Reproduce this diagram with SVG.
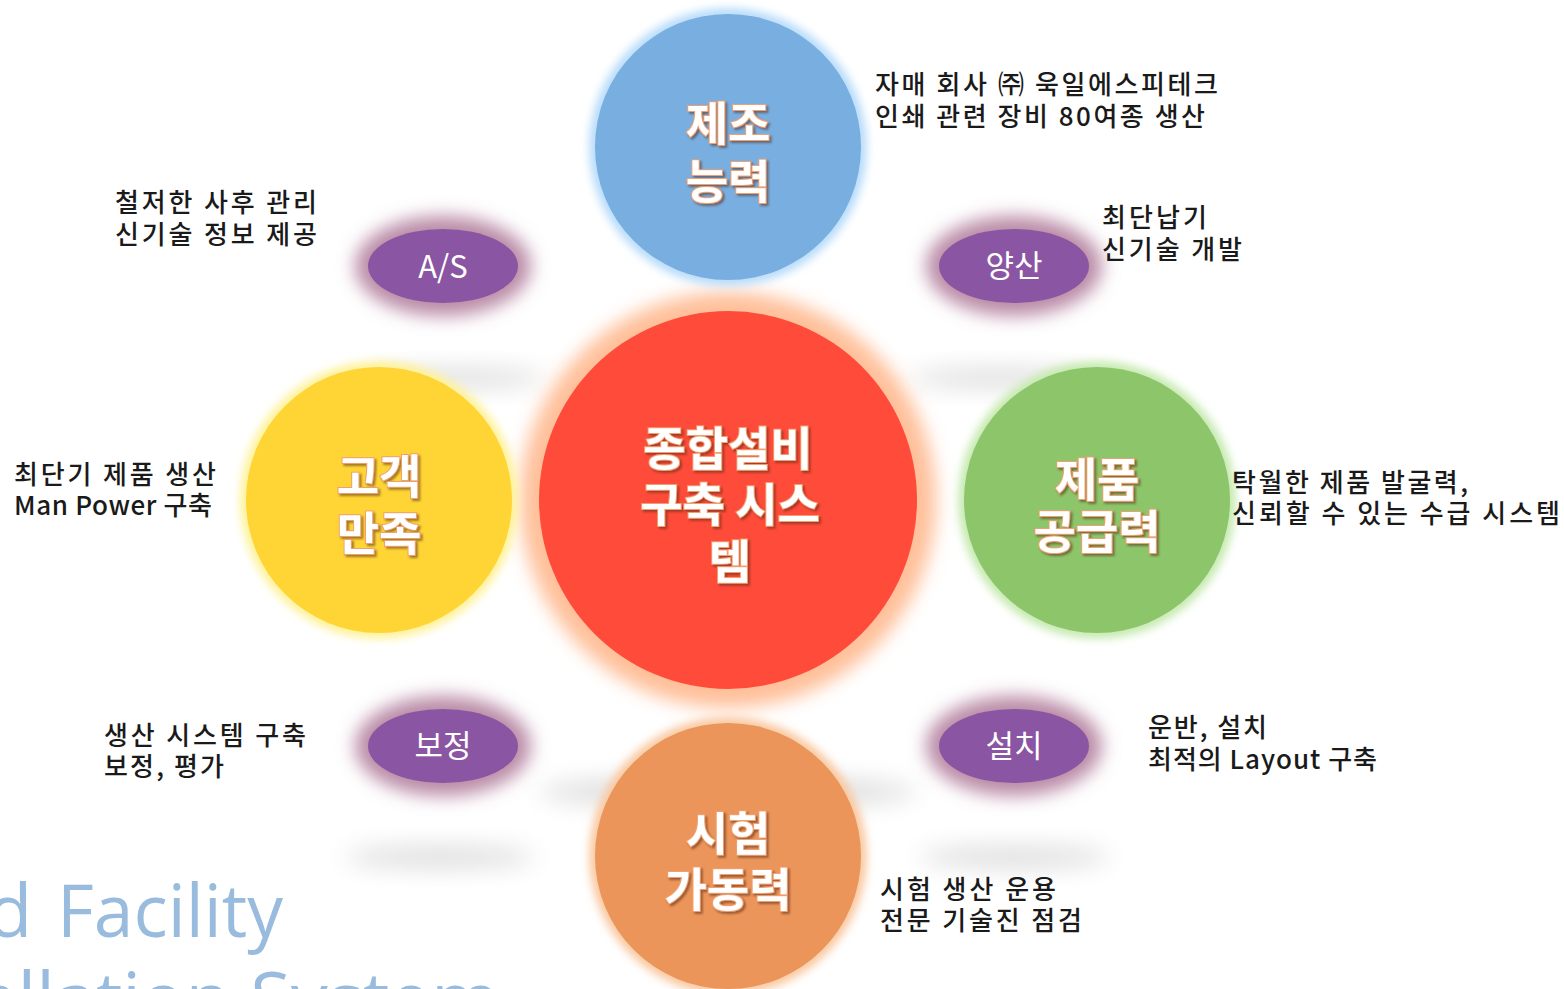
<svg xmlns="http://www.w3.org/2000/svg" width="1564" height="989" viewBox="0 0 1564 989">
<defs>
<filter id="blur4" x="-30%" y="-30%" width="160%" height="160%"><feGaussianBlur stdDeviation="4"/></filter>
<filter id="blur9" x="-40%" y="-40%" width="180%" height="180%"><feGaussianBlur stdDeviation="9"/></filter>
<filter id="blur12" x="-40%" y="-100%" width="180%" height="300%"><feGaussianBlur stdDeviation="12"/></filter>
<filter id="tshadow" x="-20%" y="-20%" width="140%" height="140%"><feDropShadow dx="2" dy="2" stdDeviation="1.2" flood-color="#5a2a10" flood-opacity="0.55"/></filter>
</defs>
<style>
.big{font-family:'Noto Sans CJK KR',sans-serif;font-weight:700;font-size:46px;fill:#ffffff;stroke:#f0a070;stroke-width:2;paint-order:stroke;text-anchor:middle;filter:url(#tshadow)}
.oval{font-family:'Noto Sans CJK KR',sans-serif;font-weight:400;font-size:31px;fill:#ffffff;text-anchor:middle}
.lbl{font-family:'Noto Sans CJK KR',sans-serif;font-weight:500;font-size:26px;fill:#1a1a1a}
.title{font-family:'Open Sans',sans-serif;font-size:74px;fill:#99bbdd}
.shadow{fill:#dadada;filter:url(#blur12)}
.pglow{fill:#b98aa6;filter:url(#blur9)}
.pfill{fill:#8a55a2}
</style>

<g id="title">
<text class="title" x="-13" y="937">d</text>
<text class="title" x="57" y="937" textLength="226" lengthAdjust="spacingAndGlyphs">Facility</text>
<text class="title" x="-50" y="1025">tallation System</text>
</g>

<g id="shadows">
<ellipse class="shadow" cx="455" cy="378" rx="90" ry="9"/>
<ellipse class="shadow" cx="1000" cy="378" rx="90" ry="9"/>
<ellipse class="shadow" cx="440" cy="857" rx="95" ry="10"/>
<ellipse class="shadow" cx="1015" cy="857" rx="95" ry="10"/>
<ellipse class="shadow" cx="728" cy="792" rx="190" ry="14"/>
</g>

<g id="node-center">
<circle cx="728" cy="500" r="208" fill="#ffc09a" filter="url(#blur9)"/>
<circle cx="728" cy="500" r="189" fill="#ff4b3a"/>
<text class="big" x="728" y="465">종합설비</text>
<text class="big" x="730" y="521">구축 시스</text>
<text class="big" x="730" y="578">템</text>
</g>

<g id="node-manufacturing">
<circle cx="728" cy="147" r="139" fill="#b8dcfa" filter="url(#blur4)"/>
<circle cx="728" cy="147" r="133" fill="#78aee0"/>
<text class="big" x="728" y="140">제조</text>
<text class="big" x="728" y="198">능력</text>
</g>

<g id="node-customer">
<circle cx="379" cy="500" r="139" fill="#fff29a" filter="url(#blur4)"/>
<circle cx="379" cy="500" r="133" fill="#fed535"/>
<text class="big" x="379" y="493">고객</text>
<text class="big" x="379" y="550">만족</text>
</g>

<g id="node-supply">
<circle cx="1097" cy="500" r="139" fill="#c6eab0" filter="url(#blur4)"/>
<circle cx="1097" cy="500" r="133" fill="#8dc56a"/>
<text class="big" x="1097" y="496">제품</text>
<text class="big" x="1097" y="548">공급력</text>
</g>

<g id="node-test">
<circle cx="728" cy="856" r="139" fill="#f9c9a2" filter="url(#blur4)"/>
<circle cx="728" cy="856" r="133" fill="#ec955a"/>
<text class="big" x="728" y="850">시험</text>
<text class="big" x="728" y="906">가동력</text>
</g>

<g id="node-as">
<ellipse class="pglow" cx="443" cy="266" rx="88" ry="50"/>
<ellipse class="pfill" cx="443" cy="266" rx="75" ry="37"/>
<text class="oval" x="443" y="278">A/S</text>
</g>

<g id="node-mass">
<ellipse class="pglow" cx="1014" cy="266" rx="88" ry="50"/>
<ellipse class="pfill" cx="1014" cy="266" rx="75" ry="37"/>
<text class="oval" x="1014" y="277">양산</text>
</g>

<g id="node-calib">
<ellipse class="pglow" cx="443" cy="746" rx="88" ry="50"/>
<ellipse class="pfill" cx="443" cy="746" rx="75" ry="37"/>
<text class="oval" x="443" y="757">보정</text>
</g>

<g id="node-install">
<ellipse class="pglow" cx="1014" cy="746" rx="88" ry="50"/>
<ellipse class="pfill" cx="1014" cy="746" rx="75" ry="37"/>
<text class="oval" x="1014" y="757">설치</text>
</g>

<g id="labels">
<text class="lbl" x="875" y="94" textLength="343" lengthAdjust="spacing">자매 회사 ㈜ 욱일에스피테크</text>
<text class="lbl" x="875" y="126" textLength="330" lengthAdjust="spacing">인쇄 관련 장비 80여종 생산</text>
<text class="lbl" x="1102" y="227" textLength="105" lengthAdjust="spacing">최단납기</text>
<text class="lbl" x="1102" y="259" textLength="140" lengthAdjust="spacing">신기술 개발</text>
<text class="lbl" x="115" y="212" textLength="202" lengthAdjust="spacing">철저한 사후 관리</text>
<text class="lbl" x="115" y="244" textLength="202" lengthAdjust="spacing">신기술 정보 제공</text>
<text class="lbl" x="14" y="484" textLength="202" lengthAdjust="spacing">최단기 제품 생산</text>
<text class="lbl" x="14" y="515" textLength="198" lengthAdjust="spacing">Man Power 구축</text>
<text class="lbl" x="1232" y="492" textLength="236" lengthAdjust="spacing">탁월한 제품 발굴력,</text>
<text class="lbl" x="1232" y="523" textLength="328" lengthAdjust="spacing">신뢰할 수 있는 수급 시스템</text>
<text class="lbl" x="104" y="745" textLength="202" lengthAdjust="spacing">생산 시스템 구축</text>
<text class="lbl" x="104" y="776" textLength="120" lengthAdjust="spacing">보정, 평가</text>
<text class="lbl" x="1148" y="737" textLength="119" lengthAdjust="spacing">운반, 설치</text>
<text class="lbl" x="1148" y="769" textLength="229" lengthAdjust="spacing">최적의 Layout 구축</text>
<text class="lbl" x="880" y="899" textLength="176" lengthAdjust="spacing">시험 생산 운용</text>
<text class="lbl" x="880" y="930" textLength="202" lengthAdjust="spacing">전문 기술진 점검</text>
</g>
</svg>
